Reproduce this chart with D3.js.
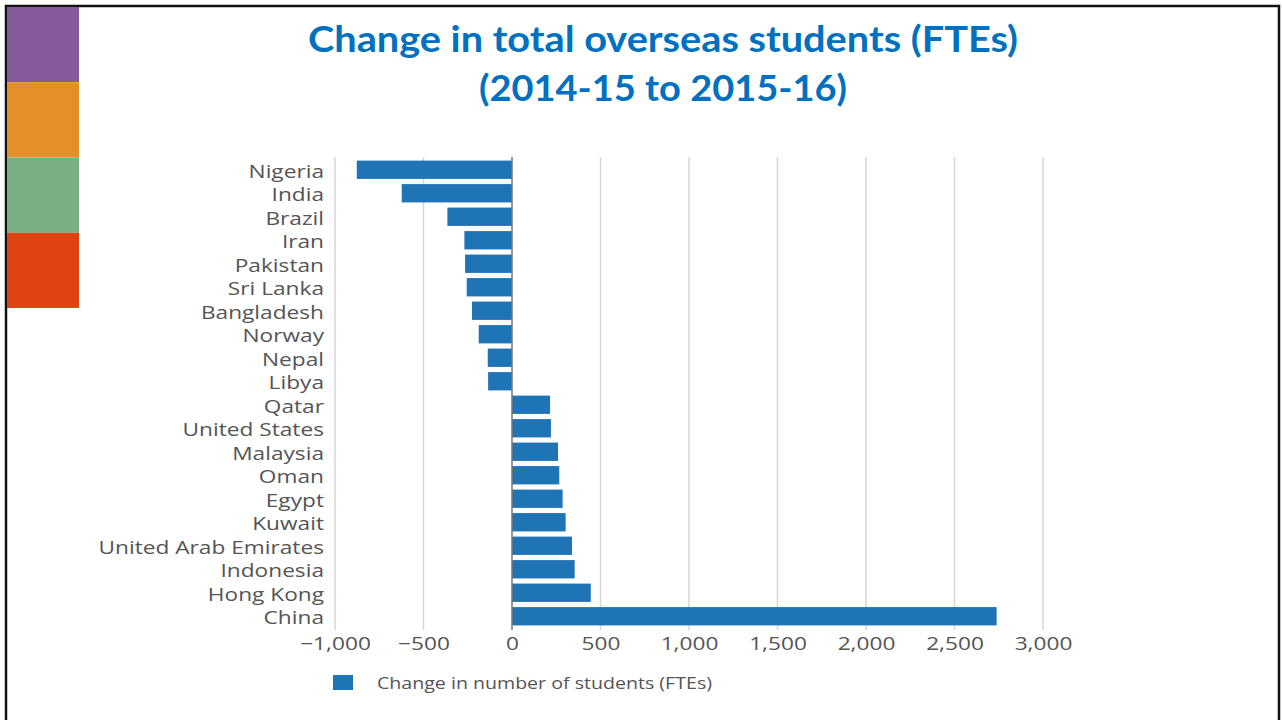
<!DOCTYPE html>
<html>
<head>
<meta charset="utf-8">
<script src="https://cdn.jsdelivr.net/npm/d3@7"></script>
<style>
  html, body { margin: 0; padding: 0; background: #fff; }
  svg { display: block; }
</style>
</head>
<body>
<div id="chartContainer"></div>
<script>
// Data
const countries = ["Nigeria", "India", "Brazil", "Iran", "Pakistan", "Sri Lanka", "Bangladesh",
  "Norway", "Nepal", "Libya", "Qatar", "United States", "Malaysia", "Oman", "Egypt",
  "Kuwait", "United Arab Emirates", "Indonesia", "Hong Kong", "China"];
const changeFTE = [-877, -623, -365, -269, -265, -256, -226, -188, -137, -135,
  215, 220, 260, 267, 286, 303, 339, 354, 445, 2738];
const xTicks = [-1000, -500, 0, 500, 1000, 1500, 2000, 2500, 3000];
const titleLines = ["Change in total overseas students (FTEs)", "(2014-15 to 2015-16)"];
const legendLabel = "Change in number of students (FTEs)";
const sideColors = ["#865b9b", "#e39028", "#78b084", "#de4311"];

const w = 1282, h = 720;
const barColor = "#1f74b5";
const stretch = 1.26; // the source picture is stretched sideways

const svg = d3.select("#chartContainer").append("svg")
  .attr("width", w).attr("height", h);

// Slide frame
svg.append("path")
  .attr("d", `M6,${h} V6 H1279 V${h}`)
  .attr("fill", "none").attr("stroke", "#111").attr("stroke-width", 2.5);

// Coloured blocks on the left
const blockY = d3.scaleBand().domain(d3.range(sideColors.length)).range([7, 308]);
svg.selectAll("rect.side").data(sideColors).enter().append("rect")
  .attr("class", "side")
  .attr("x", 7).attr("y", (d, i) => blockY(i))
  .attr("width", 72).attr("height", blockY.bandwidth())
  .attr("fill", d => d);

// Title
svg.selectAll("text.title").data(titleLines).enter().append("text")
  .attr("class", "title")
  .attr("x", 663)
  .attr("y", (d, i) => 52 + i * 49)
  .attr("text-anchor", "middle")
  .attr("font-family", "Lato, 'Open Sans', sans-serif")
  .attr("font-weight", "bold")
  .attr("font-size", 37)
  .attr("fill", "#0070c0")
  .attr("textLength", (d, i) => i === 0 ? 710 : 368)
  .attr("lengthAdjust", "spacingAndGlyphs")
  .text(d => d);

// Scales
const x = d3.scaleLinear().domain([-1000, 3000]).range([335, 1043]);
const y = d3.scaleBand().domain(countries).range([158, 628])
  .paddingInner(0.22).paddingOuter(0.11);

// Gridlines
svg.append("g").selectAll("line").data(xTicks.filter(t => t !== 0)).enter().append("line")
  .attr("x1", d => x(d)).attr("x2", d => x(d))
  .attr("y1", 157).attr("y2", 630)
  .attr("stroke", "#d6d6d6").attr("stroke-width", 1.5);

// Bars
svg.append("g").selectAll("rect").data(countries).enter().append("rect")
  .attr("x", (d, i) => x(Math.min(0, changeFTE[i])))
  .attr("y", d => y(d))
  .attr("width", (d, i) => Math.abs(x(changeFTE[i]) - x(0)))
  .attr("height", y.bandwidth())
  .attr("fill", barColor);

// Zero line
svg.append("line")
  .attr("x1", x(0)).attr("x2", x(0))
  .attr("y1", 157).attr("y2", 630)
  .attr("stroke", "#777").attr("stroke-width", 1.5);

// X axis labels
const xAxis = d3.axisBottom(x).tickValues(xTicks).tickSize(0).tickPadding(0)
  .tickFormat(d => d3.format(",")(d).replace("-", "\u2212"));
const gx = svg.append("g").attr("transform", "translate(0,637)").call(xAxis);
gx.select(".domain").remove();
gx.selectAll("text")
  .attr("font-family", "'Open Sans', sans-serif")
  .attr("font-size", 18)
  .attr("fill", "#555")
  .attr("dy", "0.71em")
  .attr("transform", `scale(${stretch},1)`);

// Y axis labels
const yAxis = d3.axisLeft(y).tickSize(0).tickPadding(0);
const gy = svg.append("g").attr("transform", `translate(324,2) scale(${stretch},1)`).call(yAxis);
gy.select(".domain").remove();
gy.selectAll("text")
  .attr("font-family", "'Open Sans', sans-serif")
  .attr("font-size", 18)
  .attr("fill", "#555");

// Legend
svg.append("rect")
  .attr("x", 333).attr("y", 675).attr("width", 20).attr("height", 15)
  .attr("fill", barColor);
svg.append("text")
  .attr("x", 377).attr("y", 683).attr("dy", "0.35em")
  .attr("font-family", "'Open Sans', sans-serif")
  .attr("font-size", 16)
  .attr("fill", "#555")
  .attr("textLength", 335)
  .attr("lengthAdjust", "spacingAndGlyphs")
  .text(legendLabel);
</script>
</body>
</html>
